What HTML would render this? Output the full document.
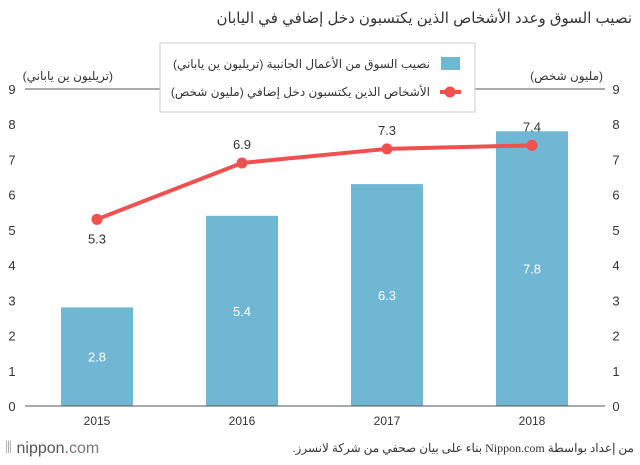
<!DOCTYPE html>
<html><head><meta charset="utf-8"><style>
body{margin:0;background:#fff;width:640px;height:460px;overflow:hidden;font-family:"Liberation Sans","Noto Sans CJK SC",sans-serif}
</style></head><body>
<svg id="c" width="640" height="460" xmlns="http://www.w3.org/2000/svg" font-family="Liberation Sans, DejaVu Sans, sans-serif">
<text x="632" y="23" text-anchor="start" direction="rtl" font-size="15" fill="#333">نصيب السوق وعدد الأشخاص الذين يكتسبون دخل إضافي في اليابان</text>
<text x="113" y="80" text-anchor="end" font-size="12" fill="#333">(تريليون ين ياباني)</text>
<text x="603" y="80" text-anchor="end" font-size="12" fill="#333">(مليون شخص)</text>
<g id="plot"></g>
<rect x="160" y="43" width="315" height="69" fill="#fff" stroke="#ccc"/>
<rect x="441" y="57" width="19" height="13" fill="#6fb7d2"/>
<text x="430" y="68" text-anchor="end" font-size="12" fill="#333">نصيب السوق من الأعمال الجانبية (تريليون ين ياباني)</text>
<line x1="440" y1="92" x2="461" y2="92" stroke="#f05050" stroke-width="4"/>
<circle cx="450" cy="92" r="5.5" fill="#f05050"/>
<text x="430" y="96" text-anchor="end" font-size="12" fill="#333">الأشخاص الذين يكتسبون دخل إضافي (مليون شخص)</text>
<text x="5" y="453" font-size="16" fill="#555"><tspan fill="#aaa">⦀ </tspan>nippon<tspan fill="#e33">.</tspan><tspan fill="#777">com</tspan></text>
<text x="634" y="452" text-anchor="start" direction="rtl" font-size="12" fill="#333" font-family="Liberation Serif, DejaVu Serif, serif">من إعداد بواسطة Nippon.com بناء على بيان صحفي من شركة لانسرز.</text>
</svg>
<script>
const categories=["2015","2016","2017","2018"];
const marketValues=[2.8,5.4,6.3,7.8];
const peopleValues=[5.3,6.9,7.3,7.4];
const tickValues=[0,1,2,3,4,5,6,7,8,9];
const NS="http://www.w3.org/2000/svg";
const g=document.getElementById("plot");
const y=v=>406-v*(317/9);
const x=i=>97+i*145;
function mk(t,a){const e=document.createElementNS(NS,t);for(const k in a)e.setAttribute(k,a[k]);g.appendChild(e);return e;}
tickValues.forEach(v=>{
 const l=mk("text",{x:12,y:y(v)+5,"text-anchor":"middle","font-size":"13",fill:"#333"});l.textContent=v;
 
 
 const r=mk("text",{x:616,y:y(v)+5,"text-anchor":"middle","font-size":"13",fill:"#333"});r.textContent=v;
 
 
});
const top9=mk("line",{x1:25,x2:605,y1:y(9),y2:y(9),stroke:"#555"});


marketValues.forEach((v,i)=>{
 const b=mk("rect",{x:x(i)-36,y:y(v),width:72,height:406-y(v),fill:"#6fb7d2"});
 
 
 const t=mk("text",{x:x(i),y:y(v/2)+5,"text-anchor":"middle","font-size":"13",fill:"#fff"});t.textContent=v.toFixed(1);
 
 
 const c=mk("text",{x:x(i),y:425,"text-anchor":"middle","font-size":"12",fill:"#333"});c.textContent=categories[i];
 
 
});
const base=mk("line",{x1:25,x2:605,y1:406,y2:406,stroke:"#555"});


const pl=mk("polyline",{points:peopleValues.map((v,i)=>x(i)+","+y(v)).join(" "),fill:"none",stroke:"#f05050","stroke-width":"4"});


peopleValues.forEach((v,i)=>{
 const c=mk("circle",{cx:x(i),cy:y(v),r:5.5,fill:"#f05050"});
 
 
 const t=mk("text",{x:x(i),y:i==0?y(v)+24:y(v)-14,"text-anchor":"middle","font-size":"13",fill:"#333"});t.textContent=v.toFixed(1);
 
 
});
</script>
</body></html>
